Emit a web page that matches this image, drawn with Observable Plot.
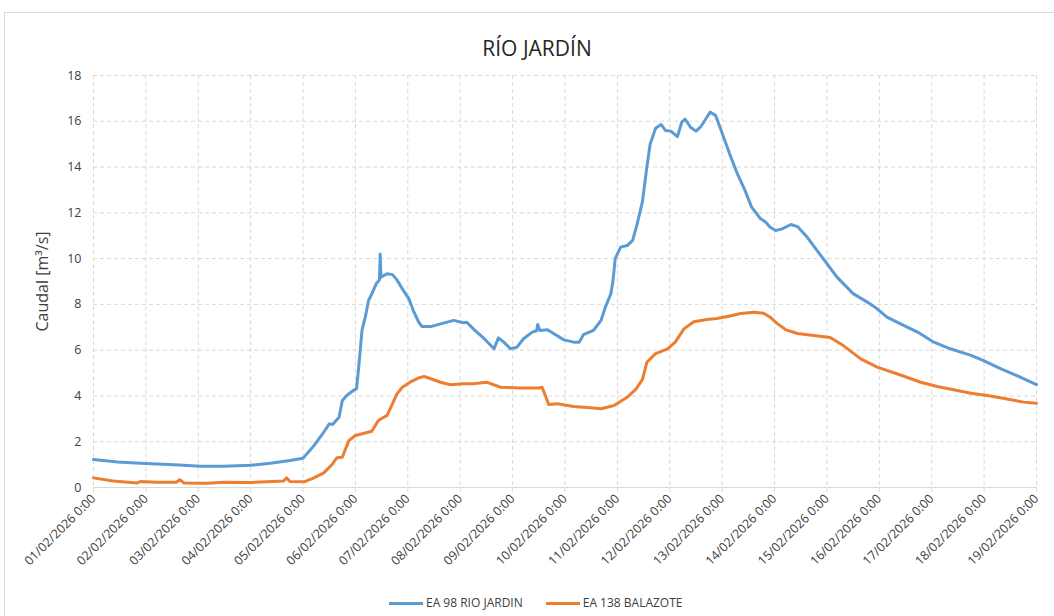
<!DOCTYPE html>
<html><head><meta charset="utf-8">
<script src="https://cdn.jsdelivr.net/npm/d3@7"></script>
<script src="https://cdn.jsdelivr.net/npm/@observablehq/plot@0.6"></script>
<style>
html,body{margin:0;padding:0;background:#fff;overflow:hidden;}
#wrap{position:relative;width:1054px;height:616px;font-family:"Open Sans",sans-serif;overflow:hidden;}
#frame{position:absolute;left:4px;top:12px;width:1070px;height:640px;border:1px solid #d9d9d9;box-sizing:border-box;}
#title{position:absolute;left:10px;width:1054px;top:38px;line-height:21px;text-align:center;font-size:21px;color:#262626;}
#chart{position:absolute;left:0;top:0;}
#legend{position:absolute;left:389px;top:596px;height:14px;font-size:12px;line-height:14px;color:#404040;display:flex;align-items:center;white-space:nowrap;}
.sw{display:inline-block;width:34px;height:3px;margin-right:3px;}
</style></head>
<body>
<div id="wrap">
  <div id="frame"></div>
  <div id="chart"></div>
  <div id="title">RÍO JARDÍN</div>
  <div id="legend"></div>
</div>
<script>
const seriesNames = ["EA 98 RIO JARDIN", "EA 138 BALAZOTE"];
const seriesColors = ["#5B9BD5", "#ED7D31"];
const yTicks = [0, 2, 4, 6, 8, 10, 12, 14, 16, 18];
const xTicks = ["2026-02-01","2026-02-02","2026-02-03","2026-02-04","2026-02-05","2026-02-06","2026-02-07","2026-02-08","2026-02-09","2026-02-10","2026-02-11","2026-02-12","2026-02-13","2026-02-14","2026-02-15","2026-02-16","2026-02-17","2026-02-18","2026-02-19"];

const blueTime = ["2026-02-01T00:00","2026-02-01T11:00","2026-02-01T21:30","2026-02-02T13:00","2026-02-03T01:00","2026-02-03T11:30","2026-02-04T00:00","2026-02-04T09:00","2026-02-04T18:00","2026-02-05T00:00","2026-02-05T05:00","2026-02-05T09:00","2026-02-05T12:00","2026-02-05T13:30","2026-02-05T16:30","2026-02-05T18:00","2026-02-05T20:00","2026-02-05T23:00","2026-02-06T00:30","2026-02-06T01:30","2026-02-06T03:00","2026-02-06T04:30","2026-02-06T06:00","2026-02-06T07:30","2026-02-06T09:30","2026-02-06T11:00","2026-02-06T11:20","2026-02-06T11:40","2026-02-06T14:30","2026-02-06T17:00","2026-02-06T19:00","2026-02-06T22:00","2026-02-07T00:30","2026-02-07T02:30","2026-02-07T05:00","2026-02-07T06:30","2026-02-07T10:30","2026-02-07T15:00","2026-02-07T21:00","2026-02-08T01:30","2026-02-08T03:00","2026-02-08T06:00","2026-02-08T11:00","2026-02-08T15:30","2026-02-08T17:30","2026-02-08T20:00","2026-02-08T23:00","2026-02-09T02:00","2026-02-09T05:00","2026-02-09T09:00","2026-02-09T11:00","2026-02-09T11:30","2026-02-09T12:30","2026-02-09T16:00","2026-02-09T19:30","2026-02-09T23:30","2026-02-10T04:00","2026-02-10T06:30","2026-02-10T08:30","2026-02-10T13:00","2026-02-10T16:30","2026-02-10T18:30","2026-02-10T21:00","2026-02-10T22:00","2026-02-10T23:00","2026-02-11T01:30","2026-02-11T04:30","2026-02-11T07:00","2026-02-11T09:00","2026-02-11T11:30","2026-02-11T13:30","2026-02-11T15:00","2026-02-11T17:30","2026-02-11T20:00","2026-02-11T22:00","2026-02-12T00:30","2026-02-12T03:30","2026-02-12T05:30","2026-02-12T07:00","2026-02-12T09:30","2026-02-12T12:00","2026-02-12T14:00","2026-02-12T16:30","2026-02-12T18:30","2026-02-12T21:00","2026-02-12T23:00","2026-02-13T01:30","2026-02-13T04:00","2026-02-13T07:00","2026-02-13T10:30","2026-02-13T13:30","2026-02-13T17:30","2026-02-13T20:00","2026-02-13T22:00","2026-02-14T00:30","2026-02-14T03:30","2026-02-14T07:30","2026-02-14T10:30","2026-02-14T15:00","2026-02-14T19:30","2026-02-15T00:00","2026-02-15T04:30","2026-02-15T12:00","2026-02-15T18:30","2026-02-15T22:00","2026-02-16T03:30","2026-02-16T09:30","2026-02-16T17:30","2026-02-17T01:00","2026-02-17T08:30","2026-02-17T18:00","2026-02-17T23:30","2026-02-18T07:30","2026-02-18T15:00","2026-02-18T22:30","2026-02-19T00:00"];
const blueFlow = [1.22,1.11,1.06,0.99,0.93,0.93,0.97,1.06,1.18,1.28,1.83,2.35,2.78,2.75,3.07,3.8,4.02,4.24,4.31,5.26,6.86,7.44,8.17,8.46,8.9,9.07,10.2,9.19,9.34,9.3,9.07,8.6,8.24,7.73,7.22,7.03,7.03,7.15,7.3,7.2,7.22,6.93,6.5,6.06,6.54,6.35,6.06,6.13,6.5,6.79,6.85,7.12,6.86,6.89,6.68,6.45,6.35,6.35,6.68,6.86,7.3,7.88,8.46,9.04,10.0,10.5,10.57,10.8,11.5,12.5,14.0,15.0,15.7,15.86,15.6,15.57,15.33,15.96,16.1,15.74,15.57,15.74,16.1,16.4,16.25,15.74,15.08,14.43,13.7,12.97,12.25,11.75,11.59,11.37,11.23,11.3,11.49,11.4,10.93,10.35,9.78,9.2,8.47,8.1,7.88,7.44,7.16,6.79,6.35,6.06,5.77,5.55,5.19,4.89,4.56,4.5];

const orangeTime = ["2026-02-01T00:00","2026-02-01T09:00","2026-02-01T20:00","2026-02-01T21:30","2026-02-02T05:00","2026-02-02T14:00","2026-02-02T15:30","2026-02-02T17:30","2026-02-03T04:00","2026-02-03T12:00","2026-02-04T00:00","2026-02-04T07:30","2026-02-04T15:00","2026-02-04T16:30","2026-02-04T18:00","2026-02-05T00:30","2026-02-05T05:00","2026-02-05T09:30","2026-02-05T13:30","2026-02-05T15:30","2026-02-05T18:00","2026-02-05T19:30","2026-02-05T21:00","2026-02-06T00:00","2026-02-06T04:00","2026-02-06T07:30","2026-02-06T10:30","2026-02-06T13:00","2026-02-06T14:30","2026-02-06T17:00","2026-02-06T19:00","2026-02-06T21:30","2026-02-07T01:00","2026-02-07T05:00","2026-02-07T07:30","2026-02-07T10:30","2026-02-07T15:00","2026-02-07T19:30","2026-02-08T01:30","2026-02-08T06:00","2026-02-08T12:00","2026-02-08T18:30","2026-02-09T03:30","2026-02-09T12:00","2026-02-09T13:30","2026-02-09T15:00","2026-02-09T16:30","2026-02-09T20:30","2026-02-10T04:00","2026-02-10T11:30","2026-02-10T16:30","2026-02-10T22:30","2026-02-11T04:30","2026-02-11T08:30","2026-02-11T11:30","2026-02-11T13:30","2026-02-11T17:30","2026-02-11T23:00","2026-02-12T02:30","2026-02-12T06:30","2026-02-12T11:00","2026-02-12T17:00","2026-02-12T21:30","2026-02-13T02:30","2026-02-13T08:30","2026-02-13T14:30","2026-02-13T19:00","2026-02-13T22:00","2026-02-14T01:00","2026-02-14T05:00","2026-02-14T10:30","2026-02-14T18:00","2026-02-15T01:30","2026-02-15T07:30","2026-02-15T15:30","2026-02-15T23:00","2026-02-16T08:00","2026-02-16T19:00","2026-02-17T02:30","2026-02-17T10:00","2026-02-17T18:00","2026-02-18T01:30","2026-02-18T10:30","2026-02-18T18:00","2026-02-19T00:00"];
const orangeFlow = [0.42,0.28,0.2,0.26,0.23,0.23,0.34,0.2,0.19,0.23,0.22,0.25,0.28,0.42,0.26,0.25,0.42,0.64,1.03,1.3,1.32,1.69,2.05,2.27,2.37,2.46,2.93,3.07,3.15,3.66,4.09,4.38,4.6,4.79,4.85,4.75,4.6,4.49,4.53,4.53,4.6,4.38,4.35,4.35,4.38,4.02,3.63,3.66,3.54,3.48,3.44,3.58,3.94,4.3,4.72,5.47,5.85,6.06,6.35,6.93,7.24,7.34,7.38,7.47,7.6,7.66,7.61,7.44,7.18,6.9,6.73,6.64,6.55,6.2,5.62,5.26,4.97,4.6,4.41,4.27,4.12,4.02,3.87,3.73,3.68];

const parseT = d3.utcParse("%Y-%m-%dT%H:%M");
const parseD = d3.utcParse("%Y-%m-%d");
const blue = blueTime.map((t, i) => ({t: parseT(t), v: blueFlow[i]}));
const orange = orangeTime.map((t, i) => ({t: parseT(t), v: orangeFlow[i]}));
const xTickDates = xTicks.map(parseD);

const grid = {stroke: "#d9d9d9", strokeOpacity: 1, strokeWidth: 1, strokeDasharray: "4,3"};

const chart = Plot.plot({
  width: 1054,
  height: 580,
  marginTop: 75,
  marginLeft: 93,
  marginRight: 18,
  marginBottom: 93,
  style: {fontFamily: "'Open Sans', sans-serif", fontSize: "12.5px", color: "#404040", background: "transparent", overflow: "visible"},
  x: {type: "utc", domain: [xTickDates[0], xTickDates[xTickDates.length - 1]]},
  y: {domain: [0, 18]},
  marks: [
    Plot.gridY(yTicks, grid),
    Plot.gridX(xTickDates, grid),
    Plot.ruleY([0], {stroke: "#d9d9d9", strokeWidth: 1}),
    Plot.axisY(yTicks, {tickSize: 0, tickPadding: 12, label: null, fill: "#404040"}),
    Plot.axisX(xTickDates, {tickSize: 5, stroke: "#d9d9d9", strokeOpacity: 1, tickRotate: -45, tickPadding: 4, tickFormat: d3.utcFormat("%d/%m/%Y %-H:%M"), label: null, fill: "#404040"}),
    Plot.text(["Caudal [m³/s]"], {frameAnchor: "left", dx: -51, rotate: -90, text: d => d, fontSize: 16, fill: "#404040", textAnchor: "middle", lineAnchor: "middle"}),
    Plot.line(blue, {x: "t", y: "v", stroke: seriesColors[0], strokeWidth: 3, strokeLinejoin: "round", strokeLinecap: "round"}),
    Plot.line(orange, {x: "t", y: "v", stroke: seriesColors[1], strokeWidth: 3, strokeLinejoin: "round", strokeLinecap: "round"})
  ]
});
document.getElementById("chart").appendChild(chart);

const legend = document.getElementById("legend");
seriesNames.forEach((name, i) => {
  const item = document.createElement("span");
  item.style.display = "inline-flex";
  item.style.alignItems = "center";
  item.style.marginRight = i === 0 ? "23px" : "0";
  const sw = document.createElement("span");
  sw.className = "sw";
  sw.style.background = seriesColors[i];
  item.appendChild(sw);
  const tx = document.createElement("span");
  tx.textContent = name;
  item.appendChild(tx);
  legend.appendChild(item);
});
</script>
</body></html>
